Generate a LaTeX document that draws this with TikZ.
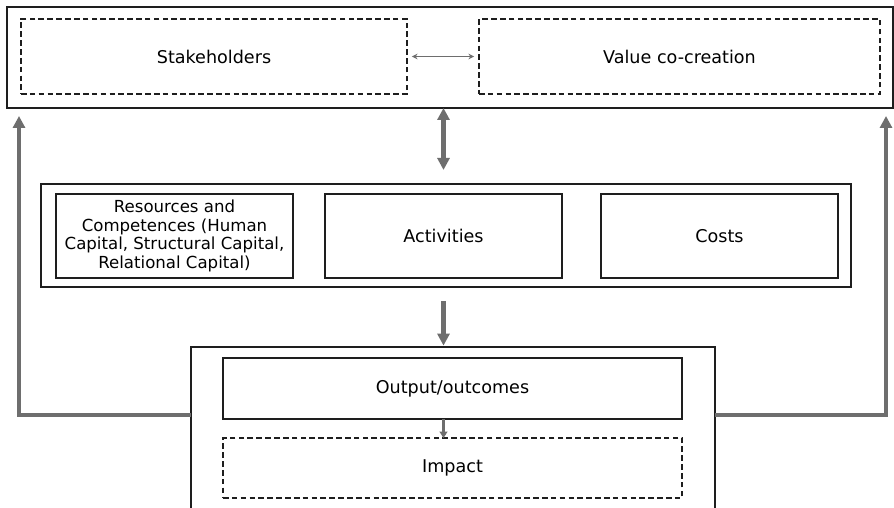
\documentclass[tikz,border=0pt]{standalone}
\usepackage{fontspec}
\setmainfont{DejaVu Sans}
\usepackage{xcolor}
\usepackage{tikz}
\usetikzlibrary{arrows.meta}
\definecolor{line}{HTML}{1E1E1E}
\definecolor{arrowgray}{HTML}{6E6E6E}
\tikzset{
  sz/.style 2 args={minimum width=#1*0.025cm, minimum height=#2*0.025cm},
  frame/.style={draw=line, line width=0.9pt, inner sep=0pt, outer sep=0pt},
  box/.style={frame, font=\fontsize{12.5}{15}\selectfont, align=center},
  dbox/.style={box, dash pattern=on 4pt off 2.3pt},
  small/.style={font=\fontsize{11.8}{13.2}\selectfont},
  bigArrow/.style={draw=arrowgray, line width=3pt, -{Triangle[length=8.5pt,width=8.5pt]}},
  bigBoth/.style={bigArrow, {Triangle[length=8.5pt,width=8.5pt]}-{Triangle[length=8.5pt,width=8.5pt]}},
  thinArrow/.style={draw=arrowgray, line width=0.6pt, {Stealth[length=4pt,width=4pt]}-{Stealth[length=4pt,width=4pt]}},
  tinyArrow/.style={draw=arrowgray, line width=1.5pt, -{Triangle[length=4.5pt,width=5.5pt]}}
}
\begin{document}
\begin{tikzpicture}[x=0.025cm, y=-0.025cm]
    \useasboundingbox (0,0) rectangle (894,507);
    \fill[white] (0,0) rectangle (894,507);

    % Top: stakeholders and value co-creation
    \node[frame, sz={886}{101}] (topframe) at (450,57.5) {};
    \node[dbox, sz={386}{75}] (stake) at (214,56.5) {Stakeholders};
    \node[dbox, sz={401}{75}] (value) at (679.5,56.5) {Value co-creation};
    \draw[thinArrow, shorten <=3.5pt, shorten >=3.5pt] (stake) -- (value);

    % Middle: resources, activities, costs
    \node[frame, sz={810}{103}] (midframe) at (446,235.5) {};
    \node[box, small, sz={237}{84}] (res) at (174.5,236) {Resources and\\Competences (Human\\Capital, Structural Capital,\\Relational Capital)};
    \node[box, sz={237}{84}] (act) at (443.5,236) {Activities};
    \node[box, sz={237}{84}] (costs) at (719.5,236) {Costs};
    \draw[bigBoth, shorten >=10pt] (topframe.south -| act.north) -- (midframe.north -| act.north);

    % Bottom: output and impact
    \node[frame, sz={524}{164}] (outframe) at (453,429) {};
    \node[box, sz={459}{61}] (out) at (452.5,388.5) {Output/outcomes};
    \node[dbox, sz={459}{60}] (impact) at (452.5,468) {Impact};
    \draw[bigArrow, shorten <=10pt, shorten >=1pt] (midframe.south -| act.south) -- (outframe.north -| act.south);
    \draw[tinyArrow] (out.south -| act.south) -- (impact.north -| act.south);

    % Feedback to the top
    \coordinate (lfb) at (19,116);
    \coordinate (rfb) at (886,116);
    \draw[bigArrow] (outframe.west |- 0,415) -| (lfb);
    \draw[bigArrow] (outframe.east |- 0,415) -| (rfb);
\end{tikzpicture}
\end{document}
